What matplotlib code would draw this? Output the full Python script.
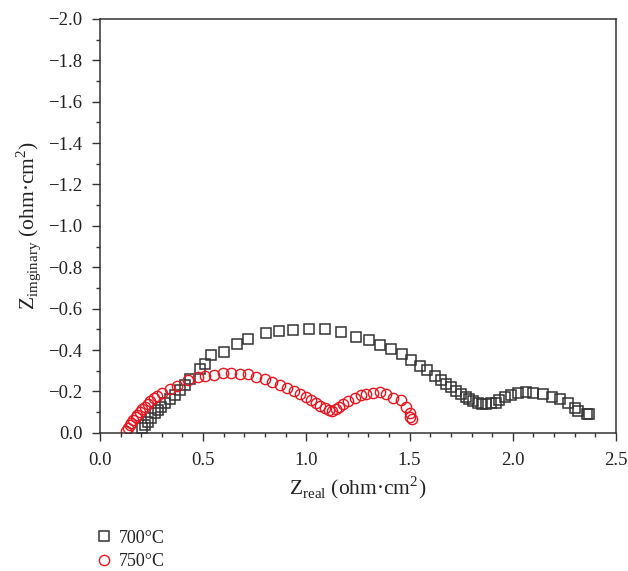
#!/usr/bin/python3

import matplotlib
matplotlib.use('Agg')
import matplotlib.pyplot as plt
from matplotlib.ticker import MultipleLocator

# 700 C impedance data (Z real, Z imaginary), ohm cm2
z_real_700 = [0.202, 0.218, 0.234, 0.250, 0.266, 0.282, 0.298, 0.315, 0.339, 0.363,
              0.387, 0.411, 0.435, 0.484, 0.508, 0.537, 0.602, 0.666, 0.718, 0.806,
              0.868, 0.935, 1.013, 1.089, 1.166, 1.242, 1.303, 1.358, 1.411, 1.463,
              1.508, 1.551, 1.585, 1.621, 1.650, 1.677, 1.701, 1.726, 1.750, 1.771,
              1.790, 1.809, 1.830, 1.851, 1.871, 1.895, 1.919, 1.935, 1.964, 1.992,
              2.024, 2.064, 2.100, 2.145, 2.190, 2.230, 2.266, 2.303, 2.317, 2.358,
              2.367]
z_imag_700 = [-0.021, -0.037, -0.053, -0.074, -0.094, -0.110, -0.126, -0.142, -0.162, -0.182,
              -0.207, -0.231, -0.258, -0.307, -0.332, -0.376, -0.389, -0.429, -0.452, -0.481,
              -0.492, -0.497, -0.502, -0.500, -0.486, -0.464, -0.449, -0.424, -0.403, -0.379,
              -0.352, -0.324, -0.303, -0.274, -0.255, -0.236, -0.220, -0.203, -0.187, -0.174,
              -0.163, -0.153, -0.145, -0.139, -0.139, -0.142, -0.145, -0.158, -0.171, -0.182,
              -0.191, -0.195, -0.194, -0.186, -0.174, -0.163, -0.145, -0.121, -0.105, -0.089,
              -0.089]

# 750 C impedance data
z_real_750 = [0.129, 0.137, 0.145, 0.153, 0.161, 0.173, 0.182, 0.194, 0.206, 0.218,
              0.231, 0.245, 0.261, 0.279, 0.303, 0.339, 0.374, 0.427, 0.476, 0.508,
              0.552, 0.596, 0.637, 0.677, 0.717, 0.758, 0.798, 0.835, 0.871, 0.906,
              0.939, 0.968, 0.997, 1.021, 1.045, 1.068, 1.089, 1.110, 1.126, 1.142,
              1.158, 1.178, 1.202, 1.234, 1.266, 1.290, 1.322, 1.355, 1.384, 1.422,
              1.459, 1.484, 1.503, 1.500, 1.511]
z_imag_750 = [-0.008, -0.021, -0.037, -0.048, -0.061, -0.075, -0.086, -0.099, -0.113, -0.126,
              -0.139, -0.153, -0.166, -0.179, -0.191, -0.210, -0.227, -0.255, -0.271, -0.274,
              -0.281, -0.289, -0.287, -0.284, -0.284, -0.268, -0.258, -0.247, -0.231, -0.215,
              -0.202, -0.187, -0.171, -0.158, -0.142, -0.129, -0.118, -0.110, -0.106, -0.113,
              -0.123, -0.137, -0.153, -0.169, -0.182, -0.187, -0.191, -0.198, -0.186, -0.169,
              -0.158, -0.126, -0.094, -0.077, -0.065]

labels = ['700°C', '750°C']


def fmt(v, p):
	'''tick label with a real minus sign'''
	if abs(v) < 1e-9:
		return '0.0'
	return f'{v:.1f}'.replace('-', '\u2212')


def main():
	'''main function'''

	plt.rcParams['font.family'] = ['Liberation Serif', 'DejaVu Serif']
	plt.rcParams['mathtext.fontset'] = 'custom'
	plt.rcParams['mathtext.rm'] = 'Liberation Serif'
	plt.rcParams['font.size'] = 13.5

	fig = plt.figure(figsize=(6.28, 5.71), dpi=100)
	ax = fig.add_axes([0.159, 0.242, 0.822, 0.725])

	ax.plot(z_real_700, z_imag_700, linestyle='none', marker='s', markersize=6.8,
		markerfacecolor='none', markeredgecolor='#333333', markeredgewidth=1.1, label=labels[0])
	ax.plot(z_real_750, z_imag_750, linestyle='none', marker='o', markersize=7.4,
		markerfacecolor='none', markeredgecolor='#e8141e', markeredgewidth=1.0, label=labels[1])

	ax.set_xlim(0, 2.5)
	ax.set_ylim(0, -2.0)
	ax.xaxis.set_major_locator(MultipleLocator(0.5))
	ax.xaxis.set_minor_locator(MultipleLocator(0.1))
	ax.yaxis.set_major_locator(MultipleLocator(0.2))
	ax.yaxis.set_minor_locator(MultipleLocator(0.1))
	ax.xaxis.set_major_formatter(fmt)
	ax.yaxis.set_major_formatter(fmt)

	ax.tick_params(which='major', direction='out', length=5.5, width=1, color='#333333', labelcolor='#222222')
	ax.tick_params(axis='y', which='major', pad=7)
	ax.tick_params(axis='x', which='major', pad=8)
	ax.tick_params(which='minor', direction='out', length=2.8, width=1, color='#333333')
	for s in ax.spines.values():
		s.set_color('#333333')
		s.set_linewidth(1.1)

	ax.set_xlabel(r'Z$_{\mathrm{real}}$ (ohm·cm$^{2}$)', color='#222222', fontsize=15.5, labelpad=4)
	ax.set_ylabel(r'Z$_{\mathrm{imginary}}$ (ohm·cm$^{2}$)', color='#222222', fontsize=15.5, labelpad=4)

	fig.legend(loc='upper left', bbox_to_anchor=(0.14, 0.085), frameon=False, fontsize=13,
		handletextpad=0.3, labelspacing=0.35, borderaxespad=0, handlelength=1.0,
		labelcolor='#222222')

	fig.savefig('out.png', dpi=100)


if __name__ == '__main__':
	main()
